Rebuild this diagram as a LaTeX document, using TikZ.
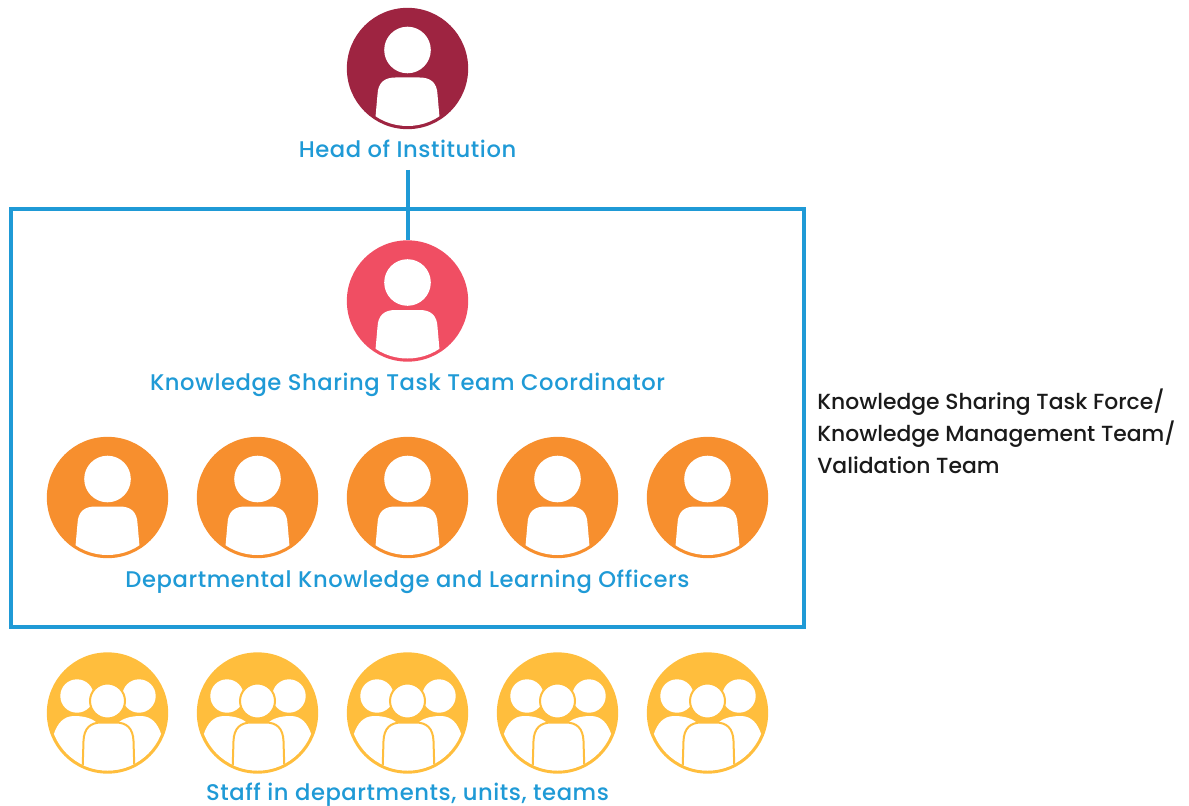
\documentclass[tikz,border=0pt]{standalone}
\usepackage{fontspec}
\setmainfont{Poppins}
\newfontfamily\rolefont[LetterSpace=2.5]{Poppins Medium}
\newfontfamily\sidefont{Poppins Medium}
\usetikzlibrary{calc}
\definecolor{headred}{HTML}{9E2441}
\definecolor{coordred}{HTML}{F04E63}
\definecolor{officerorange}{HTML}{F78F2E}
\definecolor{staffyellow}{HTML}{FFBE3D}
\definecolor{roleblue}{HTML}{1F9AD6}
\definecolor{sidetext}{HTML}{1A1A1A}
\tikzset{
    disc/.style={circle, inner sep=0pt, minimum size=91pt},
    role/.style={font=\rolefont\fontsize{17}{19}\selectfont, text=roleblue, inner sep=0pt, anchor=base},
    person/.pic={
        \fill[white] (0,-18.5) circle (23.3);
        \begin{scope}
            \clip (0,0) circle (57.5);
            \fill[white] (-33,60) -- (-30,26) .. controls (-29.5,14) and (-23,9) .. (-12,9) -- (12,9) .. controls (23,9) and (29.5,14) .. (30,26) -- (33,60) -- cycle;
        \end{scope}
    },
    group/.pic={
        \begin{scope}
            \clip (0,0) circle (57.5);
            \fill[white] (-30.5,-17) circle (16.7);
            \fill[white] (31.5,-17) circle (16.7);
            \fill[white] (-60,60) -- (-60,28) -- (-54,22) .. controls (-50,10) and (-44,3) .. (-33,3) .. controls (-24,3) and (-16,5) .. (-10,10) -- (10,10) .. controls (16,5) and (24,3) .. (33,3) .. controls (44,3) and (50,10) .. (54,22) -- (60,28) -- (60,60) -- cycle;
            \draw[#1, line width=1.5pt, fill=white] (-25,60) -- (-24,28) .. controls (-23.5,15) and (-17,9.5) .. (-6,9.5) -- (8,9.5) .. controls (19,9.5) and (25.5,15) .. (26,28) -- (27,60) -- cycle;
        \end{scope}
        \draw[#1, line width=1.5pt, fill=white] (0,-12) circle (17.5);
    },
}
\begin{document}
\begin{tikzpicture}[x=0.75pt,y=-0.75pt]
    \useasboundingbox (0,0) rectangle (1189,806);

    \node[draw=roleblue, line width=3pt, inner sep=0pt, minimum width=594.75pt, minimum height=313.5pt] (taskbox) at (407.5,418) {};

    \node[disc, fill=headred] (head) at (407.5,68.5) {};
    \node[disc, fill=coordred] (coord) at (407.5,301) {};
    \node[disc, fill=officerorange] (officerA) at (107.5,497.5) {};
    \node[disc, fill=officerorange] (officerB) at (257.5,497.5) {};
    \node[disc, fill=officerorange] (officerC) at (407.5,497.5) {};
    \node[disc, fill=officerorange] (officerD) at (557.5,497.5) {};
    \node[disc, fill=officerorange] (officerE) at (707.5,497.5) {};
    \node[disc, fill=staffyellow] (staffA) at (107.5,713) {};
    \node[disc, fill=staffyellow] (staffB) at (257.5,713) {};
    \node[disc, fill=staffyellow] (staffC) at (407.5,713) {};
    \node[disc, fill=staffyellow] (staffD) at (557.5,713) {};
    \node[disc, fill=staffyellow] (staffE) at (707.5,713) {};

    \pic at (head) {person};
    \pic at (coord) {person};
    \pic at (officerA) {person};
    \pic at (officerB) {person};
    \pic at (officerC) {person};
    \pic at (officerD) {person};
    \pic at (officerE) {person};
    \pic at (staffA) {group=staffyellow};
    \pic at (staffB) {group=staffyellow};
    \pic at (staffC) {group=staffyellow};
    \pic at (staffD) {group=staffyellow};
    \pic at (staffE) {group=staffyellow};

    \node[role] (headlabel) at (407.5,158) {Head of Institution};
    \node[role] (coordlabel) at (407.5,390) {Knowledge Sharing Task Team Coordinator};
    \node[role] (officerlabel) at (407.5,587) {Departmental Knowledge and Learning Officers};
    \node[role] (stafflabel) at (407.5,800) {Staff in departments, units, teams};
    \node[font=\sidefont\fontsize{16.4}{24}\selectfont, text=sidetext, align=left, anchor=west, inner sep=0pt] (sidelabel) at (817,431.5) {Knowledge Sharing Task Force/\\Knowledge Management Team/\\Validation Team};

    \draw[roleblue, line width=3pt] (407.5,170) -- (coord.north);
\end{tikzpicture}
\end{document}
